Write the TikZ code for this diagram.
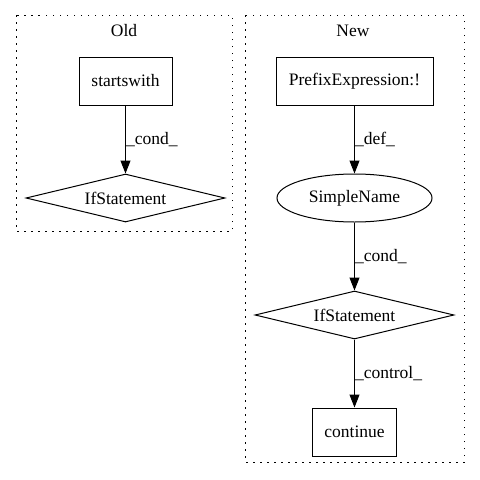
\documentclass[tikz,border=0pt]{standalone}
\usepackage{fontspec}
\setmainfont{Liberation Serif}
\usetikzlibrary{shapes,arrows.meta,positioning}

\tikzset{
  stmt/.style={draw, rectangle, minimum height=48pt, inner sep=0pt, line width=1pt},
  cond/.style={draw, diamond, aspect=4.1, minimum width=199pt, minimum height=48pt, inner sep=0pt, line width=1pt},
  var/.style={draw, ellipse, minimum width=155pt, minimum height=48pt, inner sep=0pt, line width=1pt},
  flow/.style={-{Triangle[length=13pt,width=10pt]}, line width=1pt},
  elabel/.style={midway, anchor=west, inner sep=0pt},
  cluster/.style={line width=1pt, dash pattern=on 1.5pt off 5.5pt}
}

\begin{document}
\begin{tikzpicture}[x=1pt, y=1pt, node distance=68pt, font=\fontsize{17.5}{20}\selectfont]
\useasboundingbox (0,0) rectangle (480,-480);
%clusters
\draw[cluster] (16,-15) rectangle (232,-231);
\draw[cluster] (245,-15) rectangle (464,-462);
\node (oldlabel) at (124,-31) {Old};
\node (newlabel) at (353,-31) {New};
%old nodes
\node[stmt, minimum width=93pt] (startswith) at (125.5,-81) {startswith};
\node[cond, below = 68pt of startswith] (ifold) {IfStatement};
%new nodes
\node[stmt, minimum width=157pt] (prefix) at (354.5,-81) {PrefixExpression:!};
\node[var, below = 68pt of prefix] (simplename) {SimpleName};
\node[cond, below = 68pt of simplename] (ifnew) {IfStatement};
\node[stmt, minimum width=84pt, below = 68pt of ifnew] (continue) {continue};
%edges
\draw[flow] (startswith) to node[elabel]{\_cond\_} (ifold);
\draw[flow] (prefix) to node[elabel]{\_def\_} (simplename);
\draw[flow] (simplename) to node[elabel]{\_cond\_} (ifnew);
\draw[flow] (ifnew) to node[elabel]{\_control\_} (continue);
\end{tikzpicture}
\end{document}
